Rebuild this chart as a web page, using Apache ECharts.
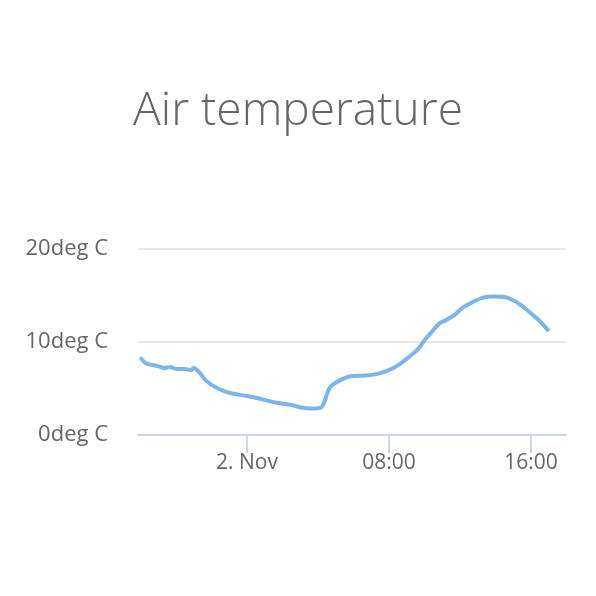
<!DOCTYPE html>
<html>
<head>
<meta charset="utf-8">
<script src="https://cdn.jsdelivr.net/npm/echarts@6/dist/echarts.min.js"></script>
<style>
html,body{margin:0;padding:0;background:#fff;}
#chart{width:596px;height:596px;}
</style>
</head>
<body>
<div id="chart"></div>
<script>
var titleText = 'Air temperature';
var times = [
  '2016-11-01 18:00','2016-11-01 18:20','2016-11-01 19:00','2016-11-01 19:20','2016-11-01 19:40',
  '2016-11-01 20:00','2016-11-01 20:30','2016-11-01 20:50','2016-11-01 21:00','2016-11-01 21:20',
  '2016-11-01 21:40','2016-11-01 22:10','2016-11-01 22:45','2016-11-01 23:20','2016-11-02 00:00',
  '2016-11-02 00:45','2016-11-02 01:35','2016-11-02 02:25','2016-11-02 03:15','2016-11-02 03:50',
  '2016-11-02 04:15','2016-11-02 04:40','2016-11-02 05:15','2016-11-02 05:55','2016-11-02 06:40',
  '2016-11-02 07:25','2016-11-02 08:05','2016-11-02 08:35','2016-11-02 09:10','2016-11-02 09:40',
  '2016-11-02 10:00','2016-11-02 10:25','2016-11-02 10:50','2016-11-02 11:15','2016-11-02 11:45',
  '2016-11-02 12:05','2016-11-02 12:40','2016-11-02 13:15','2016-11-02 13:50','2016-11-02 14:30',
  '2016-11-02 15:05','2016-11-02 15:40','2016-11-02 16:15','2016-11-02 16:40','2016-11-02 17:00'
];
var temps = [
  8.35, 7.7, 7.4, 7.2, 7.3,
  7.1, 7.1, 6.95, 7.2, 6.7,
  5.9, 5.2, 4.7, 4.4, 4.2,
  3.9, 3.5, 3.25, 2.9, 2.85,
  3.1, 5.1, 5.9, 6.35, 6.4,
  6.6, 7.05, 7.6, 8.45, 9.3,
  10.2, 11.1, 12.0, 12.4, 13.0,
  13.6, 14.25, 14.75, 14.9, 14.85,
  14.4, 13.6, 12.65, 11.9, 11.15
];
var xTicks = ['2016-11-02 00:00', '2016-11-02 08:00', '2016-11-02 16:00'];
var xTickLabels = ['2. Nov', '08:00', '16:00'];
var yTicks = [0, 10, 20];
var xMin = '2016-11-01 17:52';
var xMax = '2016-11-02 17:58';

function ts(s) {
  var p = s.split(/[- :]/).map(Number);
  return Date.UTC(p[0], p[1] - 1, p[2], p[3], p[4]);
}
var tickTs = xTicks.map(ts);
var seriesData = times.map(function (t, i) { return [ts(t), temps[i]]; });

var chart = echarts.init(document.getElementById('chart'), null, {renderer: 'canvas'});
chart.setOption({
  animation: false,
  backgroundColor: '#ffffff',
  title: {
    text: titleText,
    left: 'center',
    top: 84,
    textStyle: {
      fontFamily: 'Open Sans',
      fontWeight: 300,
      fontSize: 46,
      color: '#666666'
    }
  },
  grid: {left: 138, right: 30, top: 249, bottom: 161, containLabel: false},
  xAxis: {
    type: 'value',
    min: ts(xMin),
    max: ts(xMax),
    axisLine: {show: true, lineStyle: {color: '#ccd6eb', width: 2}},
    axisTick: {show: true, length: 18, lineStyle: {color: '#ccd6eb', width: 2}, customValues: tickTs},
    axisLabel: {
      customValues: tickTs,
      margin: 18,
      fontFamily: 'Open Sans',
      fontSize: 21,
      color: '#666666',
      formatter: function (v) {
        var i = tickTs.indexOf(v);
        return i >= 0 ? xTickLabels[i] : '';
      }
    },
    splitLine: {show: false}
  },
  yAxis: {
    type: 'value',
    min: yTicks[0],
    max: yTicks[yTicks.length - 1],
    interval: 10,
    axisLine: {show: false},
    axisTick: {show: false},
    axisLabel: {
      margin: 30,
      fontFamily: 'Open Sans',
      fontSize: 22,
      color: '#666666',
      formatter: '{value}deg C'
    },
    splitLine: {show: true, lineStyle: {color: '#e6e6e6', width: 2}}
  },
  series: [{
    type: 'line',
    data: seriesData,
    showSymbol: false,
    smooth: 0.3,
    lineStyle: {color: '#7cb5ec', width: 4},
    itemStyle: {color: '#7cb5ec'}
  }]
});
</script>
</body>
</html>
